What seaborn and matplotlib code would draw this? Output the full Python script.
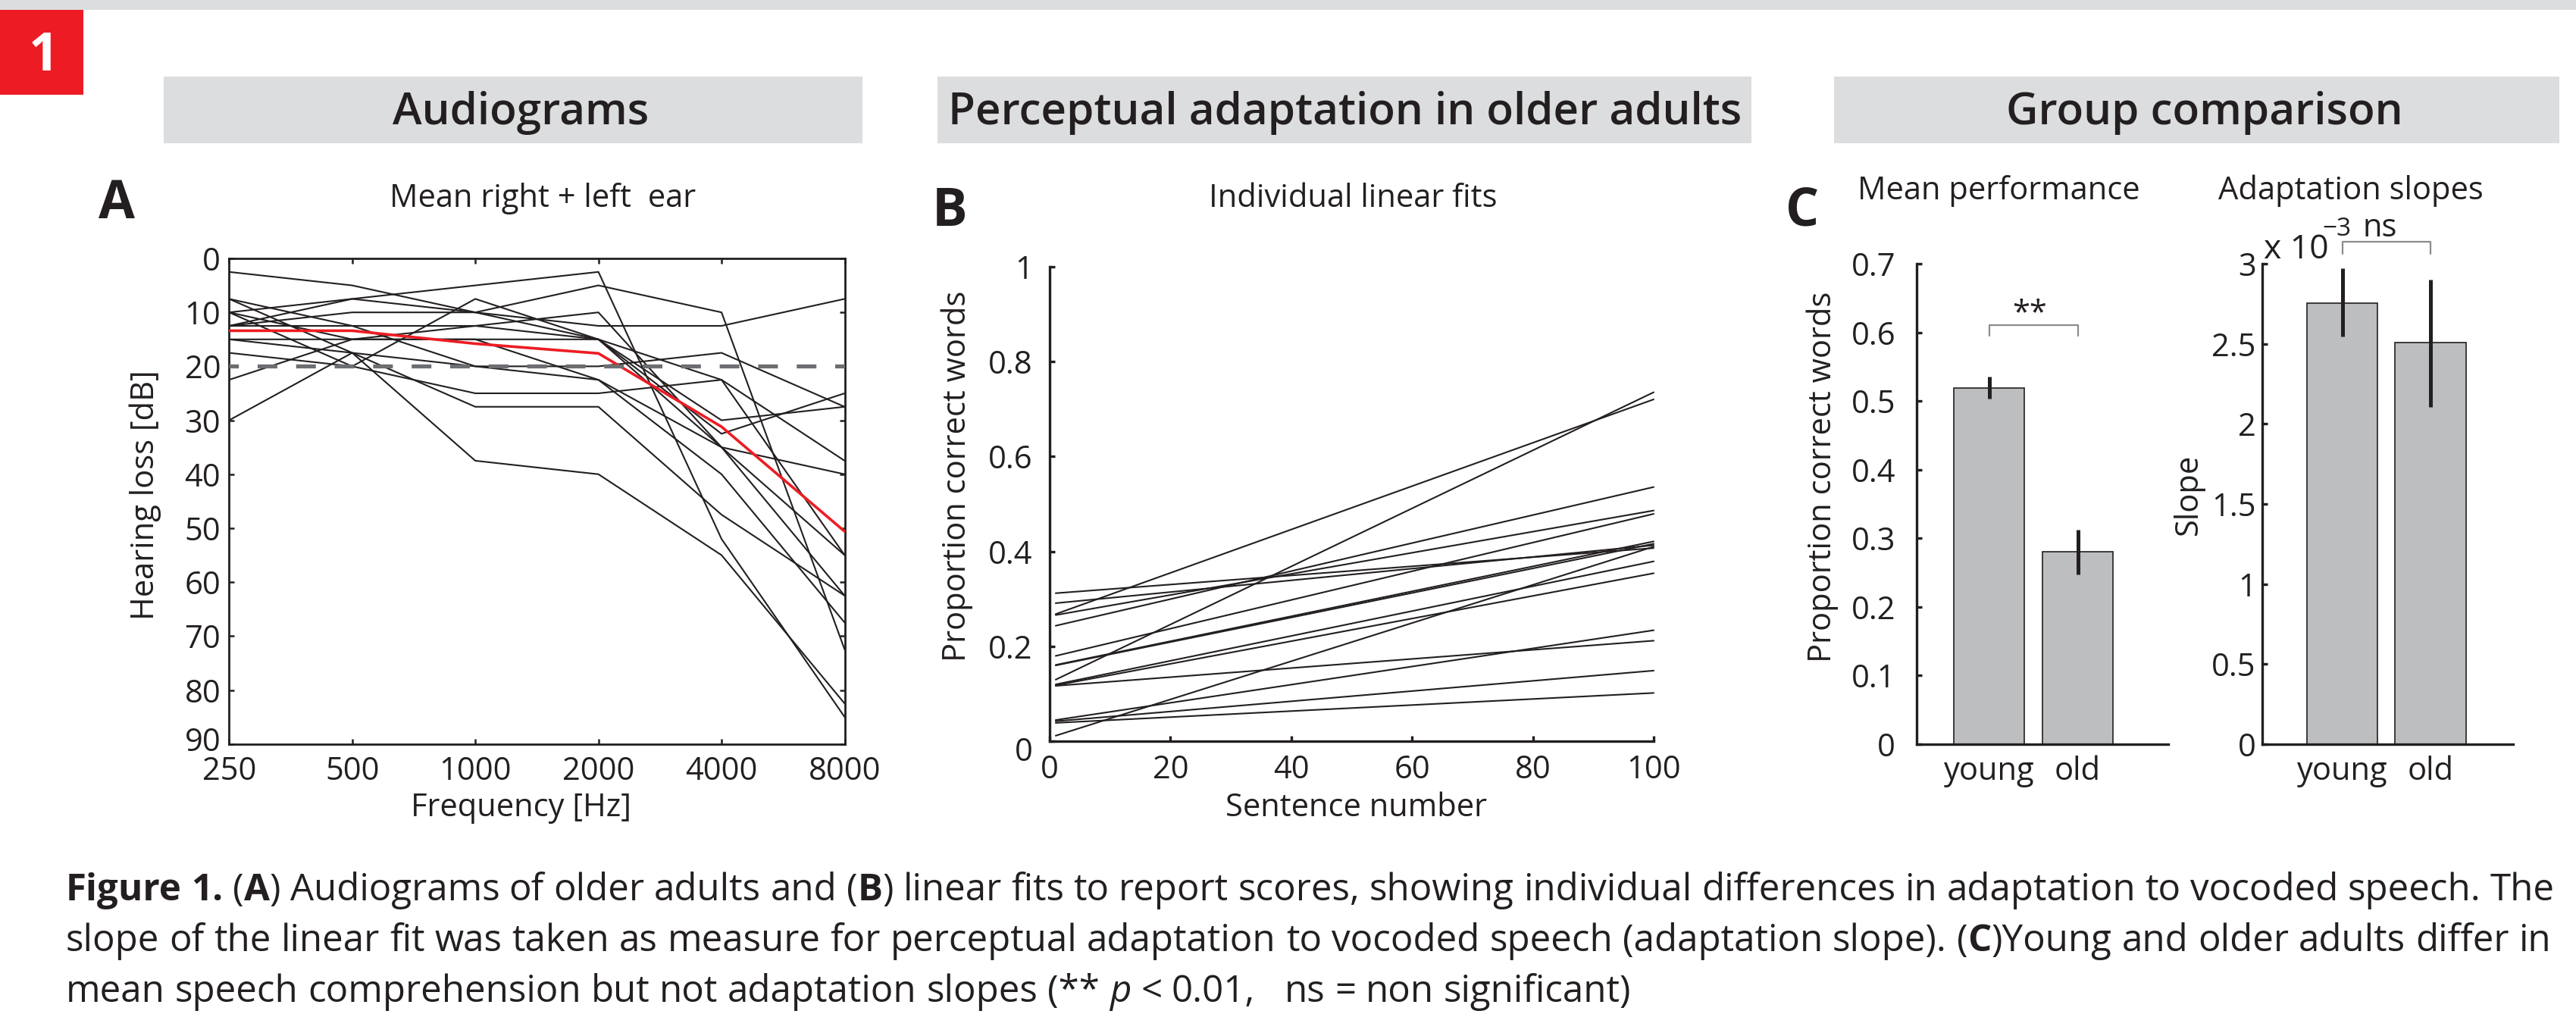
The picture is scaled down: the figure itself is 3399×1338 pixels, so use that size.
import re
import numpy as np
import pandas as pd
import matplotlib
matplotlib.use("Agg")
import matplotlib.pyplot as plt
import matplotlib.transforms as mtransforms
import seaborn as sns
from matplotlib.patches import Rectangle
from matplotlib.ticker import FixedLocator, FixedFormatter, NullLocator

# ---------------------------------------------------------------- data
# Panel A: audiograms (hearing loss in dB per frequency), one list per listener
FREQ_HZ = [250, 500, 1000, 2000, 4000, 8000]
FREQ_LABELS = ["250", "500", "1000", "2000", "4000", "8000"]
HL_01 = [2.5, 5.0, 10.0, 15.0, 30.0, 27.5]
HL_02 = [10.0, 7.5, 5.0, 2.5, 52.0, 85.0]
HL_03 = [10.0, 20.0, 7.5, 15.0, 22.5, 55.0]
HL_04 = [12.5, 7.5, 10.0, 5.0, 10.0, 72.5]
HL_05 = [12.5, 10.0, 10.0, 12.5, 12.5, 7.5]
HL_06 = [12.5, 12.5, 12.5, 10.0, 35.0, 62.5]
HL_07 = [15.0, 15.0, 15.0, 15.0, 32.5, 25.0]
HL_08 = [17.5, 20.0, 25.0, 25.0, 22.5, 37.5]
HL_09 = [22.5, 15.0, 12.5, 15.0, 35.0, 55.0]
HL_10 = [30.0, 17.5, 37.5, 40.0, 55.0, 82.5]
HL_11 = [7.5, 17.5, 27.5, 27.5, 47.5, 62.5]
HL_12 = [7.5, 12.5, 20.0, 20.0, 17.5, 27.5]
HL_13 = [15.0, 17.5, 20.0, 22.5, 40.0, 67.5]
HL_14 = [10.0, 15.0, 15.0, 22.5, 35.0, 40.0]
HL_LINES = [HL_01, HL_02, HL_03, HL_04, HL_05, HL_06, HL_07,
            HL_08, HL_09, HL_10, HL_11, HL_12, HL_13, HL_14]
HL_MEAN = [13.4, 13.4, 15.8, 17.6, 31.2, 50.6]
NORMAL_LIMIT_DB = 20
HL_TICKS = [0, 10, 20, 30, 40, 50, 60, 70, 80, 90]

# Panel B: individual linear fits (value at first and last sentence)
SENTENCE_ENDS = [1, 100]
FIT_START = [0.312, 0.291, 0.268, 0.266, 0.2435, 0.180, 0.161, 0.160,
             0.130, 0.120, 0.118, 0.117, 0.045, 0.0425, 0.039, 0.012]
FIT_END = [0.407, 0.413, 0.720, 0.486, 0.5355, 0.479, 0.421, 0.416,
           0.735, 0.379, 0.354, 0.212, 0.234, 0.149, 0.102, 0.410]
B_XTICKS = [0, 20, 40, 60, 80, 100]
B_YTICKS = [0, 0.2, 0.4, 0.6, 0.8, 1.0]
B_YLABELS = ["0", "0.2", "0.4", "0.6", "0.8", "1"]

# Panel C: group comparison
GROUPS = ["young", "old"]
PERF_MEAN = [0.519, 0.280]
PERF_LO = [0.504, 0.247]
PERF_HI = [0.535, 0.312]
SLOPE_MEAN = [2.753e-3, 2.508e-3]
SLOPE_LO = [2.546e-3, 2.106e-3]
SLOPE_HI = [2.973e-3, 2.900e-3]
PERF_TICKS = [0, 0.1, 0.2, 0.3, 0.4, 0.5, 0.6, 0.7]
PERF_TICKLABELS = ["0", "0.1", "0.2", "0.3", "0.4", "0.5", "0.6", "0.7"]
SLOPE_TICKS = [0, 0.5e-3, 1e-3, 1.5e-3, 2e-3, 2.5e-3, 3e-3]
SLOPE_TICKLABELS = ["0", "0.5", "1", "1.5", "2", "2.5", "3"]
PERF_BRACKET = [0.595, 0.611]
SLOPE_BRACKET = [3.062e-3, 3.136e-3]

CAPTION = [
    "<b>Figure</b> <b>1.</b> (<b>A</b>) Audiograms of older adults and (<b>B</b>) linear fits to report scores, "
    "showing individual differences in adaptation to vocoded speech. The",
    "slope of the linear fit was taken as measure for perceptual adaptation to vocoded speech "
    "(adaptation slope). (<b>C</b>)Young and older adults differ in",
    "mean speech comprehension but not adaptation slopes (** <i>p</i> < 0.01,   ns = non significant)",
]

# ---------------------------------------------------------------- style
INK = "#231f20"
RED = "#ed1c24"
HEADER_GRAY = "#dcdddf"
BAR_GRAY = "#bcbec0"
DASH_GRAY = "#6d6e71"
BRACKET_GRAY = "#8a8c8e"

sns.set_style("ticks")
plt.rcParams.update({
    "font.family": ["Open Sans", "DejaVu Sans"],
    "text.color": INK,
    "axes.edgecolor": INK,
    "axes.labelcolor": INK,
    "xtick.color": INK,
    "ytick.color": INK,
    "axes.linewidth": 1.0,
    "xtick.direction": "in",
    "ytick.direction": "in",
})

W, H, DPI = 3399, 1338, 200
fig = plt.figure(figsize=(W / DPI, H / DPI), dpi=DPI)
fig.patch.set_facecolor("white")


def fx(x):
    return x / W


def fy(y):
    return 1 - y / H


def add_ax(l, t, r, b):
    return fig.add_axes([l / W, 1 - b / H, (r - l) / W, (b - t) / H])


def ftext(x, y, s, **kw):
    kw.setdefault("color", INK)
    return fig.text(fx(x), fy(y), s, **kw)


def rect(l, t, r, b, color):
    fig.patches.append(Rectangle((fx(l), fy(b)), (r - l) / W, (b - t) / H,
                                 transform=fig.transFigure, facecolor=color,
                                 edgecolor="none", zorder=0))


def nudge_label(label, dy_px):
    """shift a tick label vertically by dy_px figure pixels (positive = down)"""
    label.set_transform(label.get_transform() +
                        mtransforms.ScaledTranslation(0, -dy_px / DPI, fig.dpi_scale_trans))


TICK_FS = 15
LABEL_FS = 15
HEAD_FS = 21

# ---------------------------------------------------------------- header decorations
rect(0, 0, W, 13, HEADER_GRAY)
rect(0, 13, 110, 125, RED)
ftext(38, 93, "1", color="white", fontsize=25, fontweight="bold", ha="left", va="baseline")
rect(216, 101, 1138, 189, HEADER_GRAY)
rect(1237, 101, 2311, 189, HEADER_GRAY)
rect(2420, 101, 3377, 189, HEADER_GRAY)
ftext(687, 164, "Audiograms", fontsize=HEAD_FS, fontweight="semibold", ha="center", va="baseline")
ftext(1775, 164, "Perceptual adaptation in older adults", fontsize=HEAD_FS, fontweight="semibold",
      ha="center", va="baseline")
ftext(2909, 164, "Group comparison", fontsize=HEAD_FS, fontweight="semibold", ha="center",
      va="baseline")

# ---------------------------------------------------------------- panel A
axA = add_ax(302.3, 341, 1114.5, 981.7)
dfA = pd.DataFrame(
    [(i, f, v) for i, row in enumerate(HL_LINES) for f, v in zip(FREQ_HZ, row)],
    columns=["listener", "freq", "hl"])
sns.lineplot(data=dfA, x="freq", y="hl", units="listener", estimator=None, sort=False,
             color=INK, lw=0.75, ax=axA, legend=False, zorder=2)
sns.lineplot(x=FREQ_HZ, y=HL_MEAN, color=RED, lw=1.3, ax=axA, zorder=3)
lw_d = 1.9
axA.axhline(NORMAL_LIMIT_DB, color=DASH_GRAY, lw=lw_d,
            linestyle=(4.8 / lw_d, (9.36 / lw_d, 8.93 / lw_d)), zorder=4)
axA.set_xscale("log")
axA.set_xlim(FREQ_HZ[0], FREQ_HZ[-1])
axA.set_ylim(HL_TICKS[-1], HL_TICKS[0])
axA.xaxis.set_major_locator(FixedLocator(FREQ_HZ))
axA.xaxis.set_major_formatter(FixedFormatter(FREQ_LABELS))
axA.xaxis.set_minor_locator(NullLocator())
axA.yaxis.set_major_locator(FixedLocator(HL_TICKS))
axA.yaxis.set_major_formatter(FixedFormatter([str(t) for t in HL_TICKS]))
axA.tick_params(which="both", direction="in", top=True, right=True, length=2.6, width=0.9,
                labelsize=TICK_FS)
axA.tick_params(axis="x", pad=5.5)
axA.tick_params(axis="y", pad=4)
axA.set_xlabel("")
axA.set_ylabel("")
ftext(687, 1077, "Frequency [Hz]", fontsize=LABEL_FS, ha="center", va="baseline")
ftext(203, 653, "Hearing loss [dB]", fontsize=LABEL_FS, ha="center", va="baseline",
      rotation=90, rotation_mode="anchor")
ftext(716, 273, "Mean right + left  ear", fontsize=LABEL_FS, ha="center", va="baseline")
ftext(130, 288, "A", fontsize=25, fontweight="bold", ha="left", va="baseline")

# ---------------------------------------------------------------- panel B
axB = add_ax(1385, 351.5, 2182, 978.3)
dfB = pd.DataFrame(
    [(i, x, v) for i, (s, e) in enumerate(zip(FIT_START, FIT_END))
     for x, v in zip(SENTENCE_ENDS, (s, e))],
    columns=["listener", "sentence", "prop"])
sns.lineplot(data=dfB, x="sentence", y="prop", units="listener", estimator=None,
             color=INK, lw=0.75, ax=axB, legend=False)
for ln in axB.lines:
    ln.set_clip_on(False)
axB.set_xlim(B_XTICKS[0], B_XTICKS[-1])
axB.set_ylim(B_YTICKS[0], B_YTICKS[-1])
axB.xaxis.set_major_locator(FixedLocator(B_XTICKS))
axB.xaxis.set_major_formatter(FixedFormatter([str(t) for t in B_XTICKS]))
axB.yaxis.set_major_locator(FixedLocator(B_YTICKS))
axB.yaxis.set_major_formatter(FixedFormatter(B_YLABELS))
axB.spines["top"].set_visible(False)
axB.spines["right"].set_visible(False)
axB.spines["left"].set_linewidth(1.2)
axB.spines["bottom"].set_linewidth(1.2)
axB.tick_params(direction="in", length=2.6, width=1.2, labelsize=TICK_FS)
axB.tick_params(axis="x", pad=6)
axB.tick_params(axis="y", pad=8)
axB.set_xlabel("")
axB.set_ylabel("")
ftext(1790, 1077, "Sentence number", fontsize=LABEL_FS, ha="center", va="baseline")
ftext(1274, 628, "Proportion correct words", fontsize=LABEL_FS, ha="center", va="baseline",
      rotation=90, rotation_mode="anchor")
ftext(1785, 273, "Individual linear fits", fontsize=LABEL_FS, ha="center", va="baseline")
ftext(1230, 298, "B", fontsize=25, fontweight="bold", ha="left", va="baseline")


# ---------------------------------------------------------------- panel C
def bar_panel(ax, means, lo, hi, ticks, ticklabels, xlim, ypad):
    sns.barplot(x=GROUPS, y=means, color=BAR_GRAY, saturation=1, edgecolor=INK,
                linewidth=0.6, width=0.8, errorbar=None, ax=ax, zorder=2)
    ax.vlines(range(len(GROUPS)), lo, hi, color=INK, lw=1.8, zorder=3)
    ax.set_xlim(*xlim)
    ax.set_ylim(ticks[0], ticks[-1])
    ax.yaxis.set_major_locator(FixedLocator(ticks))
    ax.yaxis.set_major_formatter(FixedFormatter(ticklabels))
    ax.spines["top"].set_visible(False)
    ax.spines["right"].set_visible(False)
    ax.spines["left"].set_linewidth(1.2)
    ax.spines["bottom"].set_linewidth(1.2)
    ax.tick_params(axis="y", direction="in", length=2.6, width=1.2, labelsize=TICK_FS, pad=ypad)
    ax.tick_params(axis="x", length=0, labelsize=TICK_FS, pad=5.5)
    ax.set_xlabel("")
    ax.set_ylabel("")


axC1 = add_ax(2529, 348, 2861, 982)
bar_panel(axC1, PERF_MEAN, PERF_LO, PERF_HI, PERF_TICKS, PERF_TICKLABELS, (-0.816, 2.02), 10)
axC1.plot([0, 0, 1, 1], [PERF_BRACKET[0], PERF_BRACKET[1], PERF_BRACKET[1], PERF_BRACKET[0]],
          color=BRACKET_GRAY, lw=0.8, clip_on=False)
ftext(2678, 425, "**", fontsize=LABEL_FS, ha="center", va="baseline")
ftext(2416, 629, "Proportion correct words", fontsize=LABEL_FS, ha="center", va="baseline",
      rotation=90, rotation_mode="anchor")
ftext(2637, 263, "Mean performance", fontsize=LABEL_FS, ha="center", va="baseline")
ftext(2356, 297, "C", fontsize=25, fontweight="bold", ha="left", va="baseline")

axC2 = add_ax(2985, 348, 3316, 982)
bar_panel(axC2, SLOPE_MEAN, SLOPE_LO, SLOPE_HI, SLOPE_TICKS, SLOPE_TICKLABELS, (-0.906, 1.936), 3)
axC2.plot([0, 0, 1, 1], [SLOPE_BRACKET[0], SLOPE_BRACKET[1], SLOPE_BRACKET[1], SLOPE_BRACKET[0]],
          color=BRACKET_GRAY, lw=0.8, clip_on=False)
ftext(3140, 312, "ns", fontsize=LABEL_FS, ha="center", va="baseline")
ftext(2987, 341, "x 10", fontsize=16, ha="left", va="baseline")
ftext(3064, 311, "\u22123", fontsize=12, ha="left", va="baseline")
ftext(2899, 652, "Slope", fontsize=LABEL_FS, ha="center", va="baseline",
      rotation=90, rotation_mode="anchor")
ftext(3102, 263, "Adaptation slopes", fontsize=LABEL_FS, ha="center", va="baseline")

# MATLAB-style label quirks seen in the reference
fig.canvas.draw()
for lab in axA.get_yticklabels():
    if lab.get_text() == "90":
        nudge_label(lab, -7)
for lab in axB.get_yticklabels():
    if lab.get_text() == "0":
        nudge_label(lab, 10)

# ---------------------------------------------------------------- caption (justified lines)
renderer = fig.canvas.get_renderer()


def parse_line(line):
    parts = re.split(r"( +)", line)
    words, gaps = [], []
    for p in parts:
        if p == "":
            continue
        if p.startswith(" "):
            gaps.append(len(p))
        else:
            pieces = []
            for q in re.split(r"(<b>.*?</b>|<i>.*?</i>)", p):
                if not q:
                    continue
                if q.startswith("<b>"):
                    pieces.append((q[3:-4], "bold", "normal"))
                elif q.startswith("<i>"):
                    pieces.append((q[3:-4], "normal", "italic"))
                else:
                    pieces.append((q, "normal", "normal"))
            words.append(pieces)
    return words, gaps


def text_width(s, size, weight="normal", style="normal"):
    t = fig.text(0, 0, s, fontsize=size, fontweight=weight, fontstyle=style)
    w = t.get_window_extent(renderer=renderer).width
    t.remove()
    return w


S0 = 10.0
space0 = text_width("n n", S0) - text_width("nn", S0)
parsed = [parse_line(l) for l in CAPTION]
ww0 = [sum(text_width(t, S0, wt, st) for t, wt, st in w) for w in parsed[0][0]]
nat0 = sum(ww0) + sum(parsed[0][1]) * space0
CAP_LEFT = 87
CAP_RIGHTS = [3371, 3366, None]
CAP_BASELINES = [1188, 1255, 1322]
cap_fs = S0 * (CAP_RIGHTS[0] - CAP_LEFT) / nat0
space = text_width("n n", cap_fs) - text_width("nn", cap_fs)

for (words, gaps), right, base in zip(parsed, CAP_RIGHTS, CAP_BASELINES):
    pw = [[text_width(t, cap_fs, wt, st) for t, wt, st in w] for w in words]
    wsum = sum(sum(p) for p in pw)
    if right is not None and gaps:
        gap_unit = (right - CAP_LEFT - wsum) / sum(gaps)
    else:
        gap_unit = space
    x = CAP_LEFT
    for i, (w, widths) in enumerate(zip(words, pw)):
        for (t, wt, st), wd in zip(w, widths):
            ftext(x, base, t, fontsize=cap_fs, fontweight=wt, fontstyle=st,
                  ha="left", va="baseline")
            x += wd
        if i < len(gaps):
            x += gaps[i] * gap_unit

fig.savefig("out.png", dpi=DPI, facecolor="white")
